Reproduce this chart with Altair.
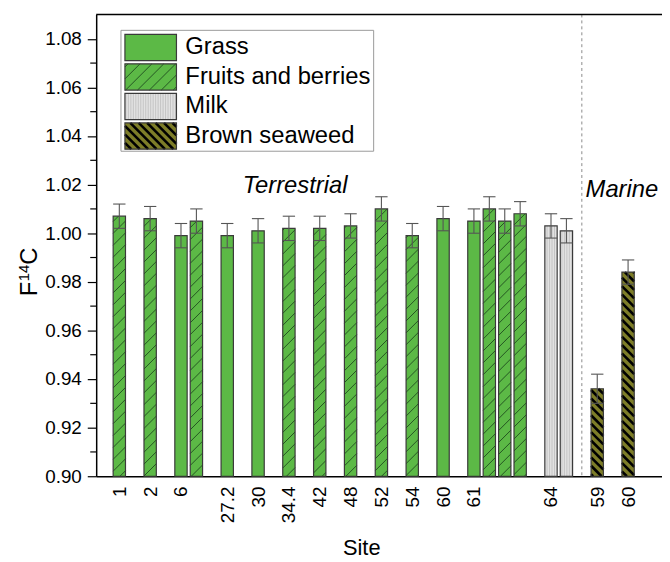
import math
import altair as alt
import pandas as pd

# ---------------- data ----------------
site_labels = ["1", "2", "6", "27.2", "30", "34.4", "42", "48", "52", "54", "60", "61", "64", "59", "60"]
bar_site = [0, 1, 2, 2, 3, 4, 5, 6, 7, 8, 9, 10, 11, 11, 11, 11, 12, 12, 13, 14]
bar_type = ["Fruits and berries", "Fruits and berries", "Grass", "Fruits and berries", "Grass",
            "Grass", "Fruits and berries", "Fruits and berries", "Fruits and berries",
            "Fruits and berries", "Fruits and berries", "Grass", "Grass", "Fruits and berries",
            "Fruits and berries", "Fruits and berries", "Milk", "Milk", "Brown seaweed",
            "Brown seaweed"]
bar_value = [1.007, 1.006, 0.999, 1.005, 0.999, 1.001, 1.002, 1.002, 1.003, 1.010,
             0.999, 1.006, 1.005, 1.010, 1.005, 1.008, 1.003, 1.001, 0.936, 0.984]
bar_err = [0.005, 0.005, 0.005, 0.005, 0.005, 0.005, 0.005, 0.005, 0.005, 0.005,
           0.005, 0.005, 0.005, 0.005, 0.005, 0.005, 0.005, 0.005, 0.006, 0.005]
legend_types = ["Grass", "Fruits and berries", "Milk", "Brown seaweed"]
y_ticks = [0.90, 0.92, 0.94, 0.96, 0.98, 1.00, 1.02, 1.04, 1.06, 1.08]
y_minor = [0.91, 0.93, 0.95, 0.97, 0.99, 1.01, 1.03, 1.05, 1.07]
region_labels = ["Terrestrial", "Marine"]

# ---------------- styles ----------------
FONT = "Liberation Sans"
fills = ["#5cb946", "#5cb946", "#e2e2e2", "#7d7d28"]
hatch_style = {
    "Fruits and berries": ("/", 12.0, "#1e4a1e", 0.9),
    "Milk": ("|", 2.5, "#b0b0b0", 0.6),
    "Brown seaweed": ("\\", 8.5, "#000000", 2.6),
}
X_MIN, X_MAX, W = -1.5, 35.2, 571
Y_MIN, Y_MAX, H = 0.90, 1.09, 466
sx = W / (X_MAX - X_MIN)
sy = H / (Y_MAX - Y_MIN)
HALF = 0.4

# positions derived from grouping: bars of one site adjacent, one gap between sites
pos = []
for i, s in enumerate(bar_site):
    if i == 0:
        pos.append(0)
    else:
        pos.append(pos[-1] + (1 if s == bar_site[i - 1] else 2))
label_pos = [pos[bar_site.index(k)] for k in range(len(site_labels))]

bars = pd.DataFrame({"u": pos, "type": bar_type, "v": bar_value, "e": bar_err})
bars["u0"] = bars["u"] - HALF
bars["u1"] = bars["u"] + HALF
bars["lo"] = bars["v"] - bars["e"]
bars["hi"] = bars["v"] + bars["e"]

first_marine = bar_type.index("Brown seaweed")
divider = (pos[first_marine - 1] + pos[first_marine]) / 2


def hatch(u0, u1, v0, v1, direction, spacing):
    x0, x1 = (u0 - X_MIN) * sx, (u1 - X_MIN) * sx
    y0, y1 = (v0 - Y_MIN) * sy, (v1 - Y_MIN) * sy
    segs = []
    if direction == "/":
        for k in range(math.ceil((y0 - x1) / spacing), math.floor((y1 - x0) / spacing) + 1):
            c = k * spacing
            xa, xb = max(x0, y0 - c), min(x1, y1 - c)
            if xb - xa > 0.3:
                segs.append((xa, xa + c, xb, xb + c))
    elif direction == "\\":
        for k in range(math.ceil((x0 + y0) / spacing), math.floor((x1 + y1) / spacing) + 1):
            c = k * spacing
            xa, xb = max(x0, c - y1), min(x1, c - y0)
            if xb - xa > 0.3:
                segs.append((xa, c - xa, xb, c - xb))
    else:
        for k in range(math.ceil(x0 / spacing), math.floor(x1 / spacing) + 1):
            c = k * spacing
            if x0 + 0.5 < c < x1 - 0.5:
                segs.append((c, y0, c, y1))
    return [(X_MIN + a / sx, Y_MIN + b / sy, X_MIN + c / sx, Y_MIN + d / sy) for a, b, c, d in segs]


# legend geometry (pixels from plot top-left)
LX0, LX1, LY0, LY1 = 25, 280, 16, 138
SW0, SW1 = 29, 81
row_top = [20 + i * 29.8 for i in range(4)]
ROW_H = 26.5


def to_u(px):
    return X_MIN + px / sx


def to_v(py):
    return Y_MAX - py / sy


leg = pd.DataFrame({
    "type": legend_types,
    "u0": [to_u(SW0)] * 4,
    "u1": [to_u(SW1)] * 4,
    "v0": [to_v(t + ROW_H) for t in row_top],
    "v1": [to_v(t) for t in row_top],
    "tu": [to_u(90)] * 4,
    "tv": [to_v(t + ROW_H / 2) for t in row_top],
})

hrows = []
for _, r in bars.iterrows():
    if r["type"] in hatch_style:
        d, sp, col, wd = hatch_style[r["type"]]
        for a, b, c, dd in hatch(r["u0"], r["u1"], Y_MIN, r["v"], d, sp):
            hrows.append({"type": r["type"], "a": a, "b": b, "c": c, "d": dd})
for _, r in leg.iterrows():
    if r["type"] in hatch_style:
        d, sp, col, wd = hatch_style[r["type"]]
        for a, b, c, dd in hatch(r["u0"], r["u1"], r["v0"], r["v1"], d, sp):
            hrows.append({"type": r["type"], "a": a, "b": b, "c": c, "d": dd})
hdf = pd.DataFrame(hrows)

xs = alt.Scale(domain=[X_MIN, X_MAX], nice=False, zero=False)
ys = alt.Scale(domain=[Y_MIN, Y_MAX], nice=False, zero=False)
cs = alt.Scale(domain=legend_types, range=fills)

label_expr = "''"
for p, l in reversed(list(zip(label_pos, site_labels))):
    label_expr = f"datum.value == {p} ? '{l}' : ({label_expr})"

XA = alt.Axis(values=label_pos, labelExpr=label_expr, labelAngle=270, labelFontSize=19,
              labelFont=FONT, labelColor="black", ticks=False, domainColor="black",
              domainWidth=1.5, labelPadding=10, title=None, grid=False, labelFlush=False,
              labelOverlap=False)
YA = alt.Axis(values=y_ticks, format=".2f", labelFontSize=19, labelFont=FONT,
              labelColor="black", tickSize=9, tickWidth=1.2, tickColor="black",
              domainColor="black", domainWidth=1.5, labelPadding=6, title=None, grid=False)


def X(f):
    return alt.X(f, scale=xs, axis=XA)


def Y(f):
    return alt.Y(f, scale=ys, axis=YA)


base_bars = alt.Chart(bars).mark_rect().encode(
    x=X("u0:Q"), x2="u1:Q", y=Y("v:Q"), y2=alt.datum(Y_MIN),
    color=alt.Color("type:N", scale=cs, legend=None),
)

hatch_layers = []
for t, (d, sp, col, wd) in hatch_style.items():
    hatch_layers.append(
        alt.Chart(hdf).transform_filter(alt.datum.type == t).mark_rule(
            color=col, strokeWidth=wd, strokeCap="butt").encode(
            x=X("a:Q"), y=Y("b:Q"), x2="c:Q", y2="d:Q")
    )

outline = alt.Chart(bars).mark_rect(fillOpacity=0, stroke="#3a3a3a", strokeWidth=1.2).encode(
    x=X("u0:Q"), x2="u1:Q", y=Y("v:Q"), y2=alt.datum(Y_MIN))

err_color = "#555555"
err_line = alt.Chart(bars).mark_rule(color=err_color, strokeWidth=1.1).encode(
    x=X("u:Q"), y=Y("lo:Q"), y2="hi:Q")
cap_lo = alt.Chart(bars).mark_rule(color=err_color, strokeWidth=1.1).encode(
    x=X("u0:Q"), x2="u1:Q", y=Y("lo:Q"))
cap_hi = alt.Chart(bars).mark_rule(color=err_color, strokeWidth=1.1).encode(
    x=X("u0:Q"), x2="u1:Q", y=Y("hi:Q"))

div = alt.Chart(pd.DataFrame({"u": [divider]})).mark_rule(
    color="#8a8a8a", strokeDash=[3, 3], strokeWidth=1).encode(x=X("u:Q"))

regions = pd.DataFrame({"label": region_labels, "u": [11.4, 32.6], "v": [1.0195, 1.0177]})
region_text = alt.Chart(regions).mark_text(font=FONT, fontSize=24, fontStyle="italic",
                                           color="black", baseline="middle").encode(
    x=X("u:Q"), y=Y("v:Q"), text="label:N")

minor = alt.Chart(pd.DataFrame({"v": y_minor})).mark_rule(color="black", strokeWidth=1.2).encode(
    y=Y("v:Q"), x=alt.value(-6), x2=alt.value(0))

one = alt.Data(values=[{}])
top_line = alt.Chart(one).mark_rule(color="black", strokeWidth=1.5).encode(
    x=alt.value(0), x2=alt.value(W), y=alt.value(0))

leg_box = alt.Chart(one).mark_rect(fill="white", stroke="#9a9a9a", strokeWidth=1).encode(
    x=alt.value(LX0), x2=alt.value(LX1), y=alt.value(LY0), y2=alt.value(LY1))
leg_fill = alt.Chart(leg).mark_rect().encode(
    x=X("u0:Q"), x2="u1:Q", y=Y("v0:Q"), y2="v1:Q",
    color=alt.Color("type:N", scale=cs, legend=None))
leg_outline = alt.Chart(leg).mark_rect(fillOpacity=0, stroke="#3a3a3a", strokeWidth=1.2).encode(
    x=X("u0:Q"), x2="u1:Q", y=Y("v0:Q"), y2="v1:Q")
leg_text = alt.Chart(leg).mark_text(font=FONT, fontSize=24, color="black", align="left",
                                    baseline="middle").encode(
    x=X("tu:Q"), y=Y("tv:Q"), text="type:N")

TX, TY = -67, 260
t_f = alt.Chart(one).mark_text(text="F", font=FONT, fontSize=24, angle=270, color="black",
                               baseline="middle").encode(x=alt.value(TX), y=alt.value(TY + 17))
t_14 = alt.Chart(one).mark_text(text="14", font=FONT, fontSize=15, angle=270, color="black",
                                baseline="middle").encode(x=alt.value(TX - 6), y=alt.value(TY + 1))
t_c = alt.Chart(one).mark_text(text="C", font=FONT, fontSize=24, angle=270, color="black",
                               baseline="middle").encode(x=alt.value(TX), y=alt.value(TY - 16))
site_t = alt.Chart(one).mark_text(text="Site", font=FONT, fontSize=22, color="black",
                                  baseline="middle").encode(x=alt.value(268), y=alt.value(538))

chart = alt.layer(
    base_bars, leg_box, leg_fill, *hatch_layers, outline, leg_outline, err_line, cap_lo, cap_hi,
    div, region_text, minor, top_line, leg_text, t_f, t_14, t_c, site_t,
).properties(
    width=W, height=H,
    autosize=alt.AutoSizeParams(type="none"),
    padding={"left": 89, "top": 4, "right": 0, "bottom": 84},
).configure_view(stroke=None)

chart.save("out.html", embed_options={"renderer": "svg", "actions": False})
